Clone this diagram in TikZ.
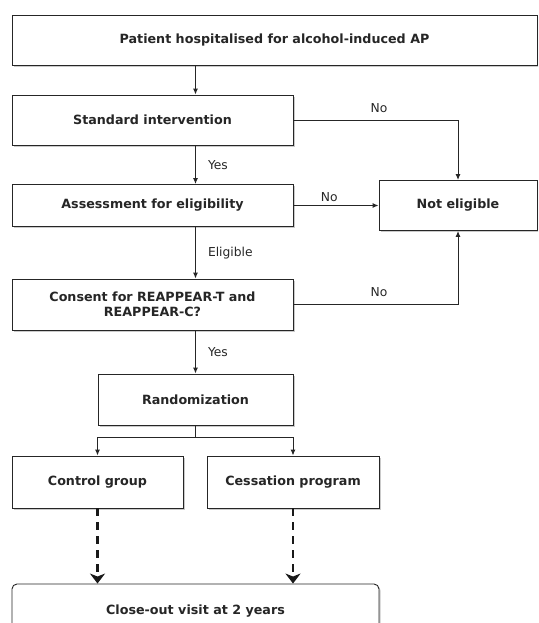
\documentclass[tikz,border=0pt]{standalone}
\usepackage{fontspec}
\setmainfont{DejaVu Sans}
\usetikzlibrary{shapes,arrows,arrows.meta,shadows,calc}

\begin{document}
\begin{tikzpicture}[auto, x=1pt, y=-1pt, >={Latex[length=6pt,width=5pt]}]
\tikzstyle{block} = [draw=black!85, fill=white, rectangle, line width=0.9pt,
    text=black!85, font=\fontsize{12.7}{14.5}\selectfont\bfseries,
    align=center, inner sep=0pt,
    drop shadow={shadow xshift=1.6pt, shadow yshift=-1.6pt, fill=black!35, opacity=0.6}]
\tikzstyle{lbl} = [font=\fontsize{12.3}{14}\selectfont, text=black!85, inner sep=0pt]
\tikzstyle{line} = [draw=black!85, line width=1pt]
\tikzstyle{dashline} = [draw=black!90, line width=2.6pt, dash pattern=on 8pt off 6pt,
    -{Stealth[length=10pt,width=15pt,inset=3pt]}]
    \useasboundingbox (0,0) rectangle (538,623);
    \clip (0,0) rectangle (538,623);
    % We start by placing the blocks
    \node [block, minimum width=525pt, minimum height=50pt] (patient) at (274.5,40)
        {Patient hospitalised for alcohol-induced AP};
    \node [block, minimum width=281pt, minimum height=50pt] (standard) at (152.5,120)
        {Standard intervention};
    \node [block, minimum width=281pt, minimum height=42pt] (assess) at (152.5,205.5)
        {Assessment for eligibility};
    \node [block, minimum width=158pt, minimum height=50pt] (noteligible) at (458,205.5)
        {Not eligible};
    \node [block, minimum width=281pt, minimum height=51pt] (consent) at (152.5,304.5)
        {Consent for REAPPEAR-T and\\REAPPEAR-C?};
    \node [block, minimum width=195pt, minimum height=51pt] (rand) at (195.5,399.5)
        {Randomization};
    \node [block, minimum width=171pt, minimum height=52pt] (control) at (97.5,482)
        {Control group};
    \node [block, minimum width=172pt, minimum height=52pt] (cessation) at (293,482)
        {Cessation program};
    \node [block, rounded corners=5pt, minimum width=367pt, minimum height=54pt,
        drop shadow={opacity=0}] (closeout) at (195.5,611)
        {Close-out visit at 2 years};
    % The vertical arrows all run down the axis of the randomization block
    \coordinate (split) at ($(rand.south)+(0,12)$);

    % Once the nodes are placed, connecting them is easy.
    \draw [line,->] (patient.south -| rand) -- (standard.north -| rand);
    \draw [line,->] (standard.south -| rand) -- node [lbl, right=12pt] {Yes}
        (assess.north -| rand);
    \draw [line,->] (standard.east) -| node [lbl, pos=0.26, above=7pt] {No}
        (noteligible.north);
    \draw [line,->] (assess.east) -- node [lbl, pos=0.42, above=3pt] {No}
        (noteligible.west);
    \draw [line,->] (assess.south -| rand) -- node [lbl, right=12pt] {Eligible}
        (consent.north -| rand);
    \draw [line,->] (consent.east) -| node [lbl, pos=0.26, above=7pt] {No}
        (noteligible.south);
    \draw [line,->] (consent.south -| rand) -- node [lbl, right=12pt] {Yes} (rand);
    \draw [line] (rand) -- (split);
    \draw [line,->] (split) -| (control.north);
    \draw [line,->] (split) -| (cessation.north);
    \draw [dashline] (control.south) -- (control.south |- closeout.north);
    \draw [dashline] (cessation.south) -- (cessation.south |- closeout.north);
\end{tikzpicture}
\end{document}
